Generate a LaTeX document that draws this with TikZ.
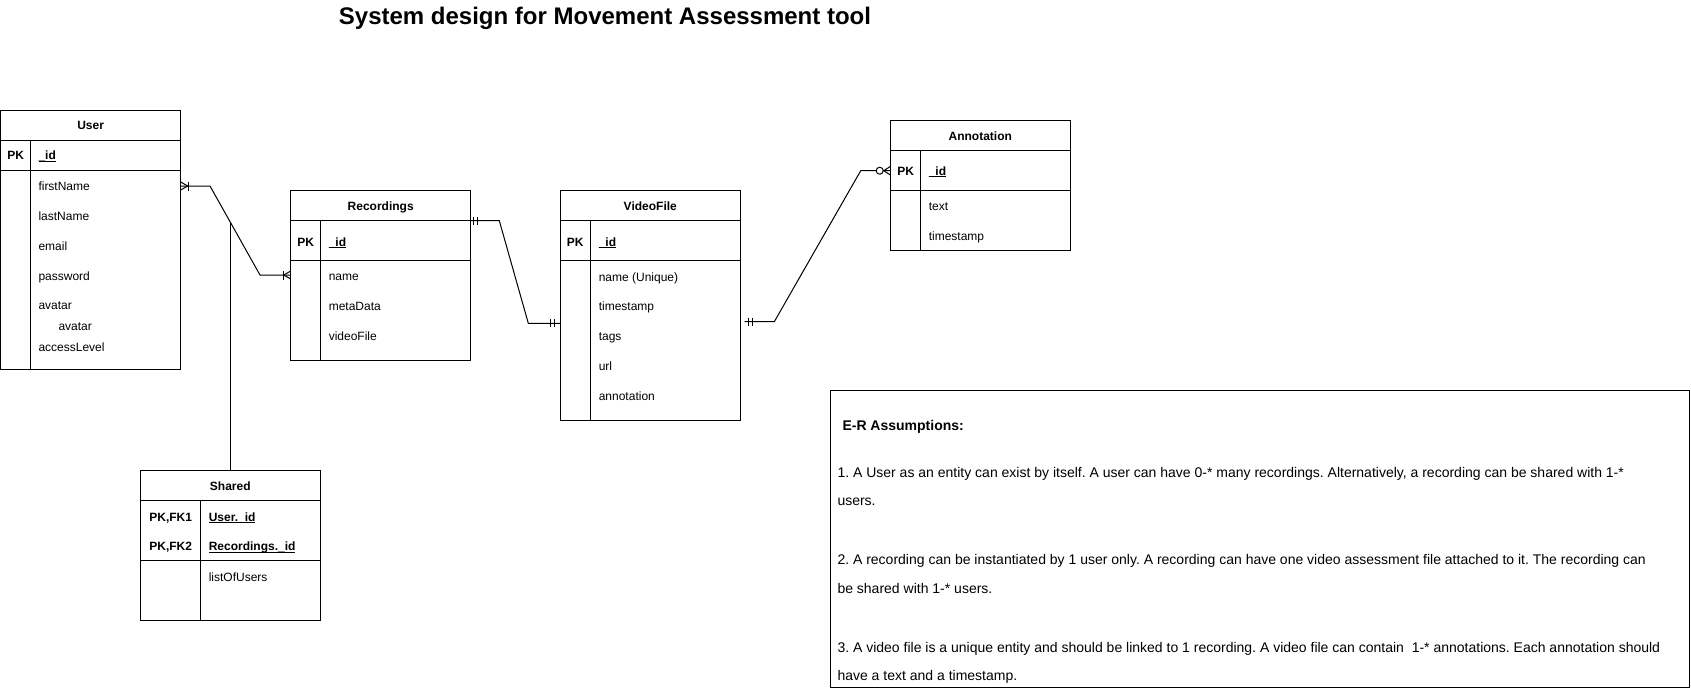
\documentclass[tikz,border=0pt]{standalone}
\usepackage{fontspec}
\setmainfont{Liberation Sans}
\usetikzlibrary{calc}
\frenchspacing
\newcommand{\keyul}[1]{\underline{\smash{#1}}}
\begin{document}
\begin{tikzpicture}[x=1pt,y=-1pt,line width=1pt,
  tbl/.style={draw, rectangle, inner sep=0pt, outer sep=0pt, anchor=north west},
  ttl/.style={font=\bfseries\fontsize{12}{14}\selectfont, inner sep=0pt, text height=8.6pt, text depth=0pt},
  fld/.style={font=\fontsize{12}{14}\selectfont, inner sep=0pt, anchor=west, text height=8.6pt, text depth=0pt},
  key/.style={fld, font=\bfseries\fontsize{12}{14}\selectfont},
  pk/.style={key, anchor=center},
  note/.style={font=\fontsize{14}{16}\selectfont, inner sep=0pt, anchor=west, text height=10pt, text depth=0pt},
  onemany/.pic={\draw (0,-4) -- (7,0) -- (0,4); \draw (7.5,-4.5) -- (7.5,4.5);},
  mandone/.pic={\draw (0,-4) -- (0,4); \draw (4,-4) -- (4,4);},
  zeromany/.pic={\draw (0,-4.5) -- (7,0) -- (0,4.5); \draw[fill=white] (11,0) circle (3.5);},
]
\useasboundingbox (0,0) rectangle (1691,691);

% title
\node[font=\bfseries\fontsize{24}{28}\selectfont, inner sep=0pt, text height=17pt, text depth=0pt] (title) at (605,16) {System design for Movement Assessment tool};

% ---------- User ----------
\node[tbl, minimum width=180.2pt, minimum height=259.3pt] (user) at (0.5,110) {};
\draw (user.west |- 0,140) -- (user.east |- 0,140);
\draw (user.west |- 0,170) -- (user.east |- 0,170);
\draw (30.7,140) -- (30.7,369.3);
\node[ttl] (userT) at (90.6,125) {User};
\node[pk] (userPK) at (15.6,155) {PK};
\node[key] (userId) at (38,155) {\keyul{\_id}};
\node[fld] (u1) at (38,186) {firstName};
\node[fld] (u2) at (38,216) {lastName};
\node[fld] (u3) at (38,246) {email};
\node[fld] (u4) at (38,276) {password};
\node[fld] (u5) at (38,305) {avatar};
\node[fld] (u6) at (58,326) {avatar};
\node[fld] (u7) at (38,346.7) {accessLevel};

% ---------- Recordings ----------
\node[tbl, minimum width=180pt, minimum height=169.3pt] (rec) at (290.7,190.7) {};
\draw (rec.west |- 0,220.7) -- (rec.east |- 0,220.7);
\draw (rec.west |- 0,260) -- (rec.east |- 0,260);
\draw (320.7,220.7) -- (320.7,360);
\node[ttl] (recT) at (380.7,206) {Recordings};
\node[pk] (recPK) at (305.7,241.7) {PK};
\node[key] (recId) at (328.3,241.7) {\keyul{\_id}};
\node[fld] (r1) at (328.3,276) {name};
\node[fld] (r2) at (328.3,306) {metaData};
\node[fld] (r3) at (328.3,336) {videoFile};

% ---------- VideoFile ----------
\node[tbl, minimum width=180.7pt, minimum height=229.3pt] (vid) at (560,190.7) {};
\draw (vid.west |- 0,220.7) -- (vid.east |- 0,220.7);
\draw (vid.west |- 0,260) -- (vid.east |- 0,260);
\draw (590.7,220.7) -- (590.7,420);
\node[ttl] (vidT) at (650.3,206) {VideoFile};
\node[pk] (vidPK) at (575.3,241.7) {PK};
\node[key] (vidId) at (598.3,241.7) {\keyul{\_id}};
\node[fld] (v1) at (598.3,276.7) {name (Unique)};
\node[fld] (v2) at (598.3,306) {timestamp};
\node[fld] (v3) at (598.3,336) {tags};
\node[fld] (v4) at (598.3,366) {url};
\node[fld] (v5) at (598.3,395.7) {annotation};

% ---------- Annotation ----------
\node[tbl, minimum width=179.3pt, minimum height=129.3pt] (ann) at (890.7,120.7) {};
\draw (ann.west |- 0,150.7) -- (ann.east |- 0,150.7);
\draw (ann.west |- 0,190) -- (ann.east |- 0,190);
\draw (920.7,150.7) -- (920.7,250);
\node[ttl] (annT) at (980.3,136) {Annotation};
\node[pk] (annPK) at (905.7,170.7) {PK};
\node[key] (annId) at (928.3,170.7) {\keyul{\_id}};
\node[fld] (a1) at (928.3,206) {text};
\node[fld] (a2) at (928.3,236) {timestamp};

% ---------- Shared ----------
\node[tbl, minimum width=179.3pt, minimum height=150pt] (sh) at (140.7,470.7) {};
\draw (sh.west |- 0,500.7) -- (sh.east |- 0,500.7);
\draw (sh.west |- 0,560) -- (sh.east |- 0,560);
\draw (200.7,500.7) -- (200.7,620.7);
\node[ttl] (shT) at (230.3,486) {Shared};
\node[pk] (shPK1) at (170.7,516.7) {PK,FK1};
\node[pk] (shPK2) at (170.7,546) {PK,FK2};
\node[key] (shK1) at (208.3,516.7) {\keyul{User.\_id}};
\node[key] (shK2) at (208.3,546) {\keyul{Recordings.\_id}};
\node[fld] (s1) at (208.3,576.7) {listOfUsers};

% ---------- connectors ----------
\coordinate (c1a) at (210,186);
\coordinate (c1b) at (260,275);
\draw (user.east |- 0,186) -- (c1a) -- (c1b) -- (rec.west |- 0,275);
\pic at (user.east |- 0,186) {onemany};
\pic[rotate=180] at (rec.west |- 0,275) {onemany};
\coordinate (c1m) at ($(c1a)!0.414!(c1b)$);
\draw (c1m) -- (c1m |- sh.north);

\coordinate (c2a) at (499.3,220.7);
\coordinate (c2b) at (528.3,323.3);
\draw (rec.east |- 0,220.7) -- (c2a) -- (c2b) -- (vid.west |- 0,323.3);
\pic at (473.3,220.7) {mandone};
\pic at (550,323.3) {mandone};

\coordinate (c3s) at (744.5,321.7);
\coordinate (c3a) at (774.3,321.7);
\coordinate (c3b) at (860.7,170.7);
\draw (c3s) -- (c3a) -- (c3b) -- (ann.west |- 0,170.7);
\pic at (748.3,321.7) {mandone};
\pic[rotate=180] at (ann.west |- 0,170.7) {zeromany};

% ---------- notes ----------
\node[tbl, minimum width=858.8pt, minimum height=297pt] (notes) at (830.7,390) {};
\node[note, font=\bfseries\fontsize{14}{16}\selectfont] (n0) at (842,425) {E-R Assumptions:};
\node[note] (n1) at (837,472.3) {1. A User as an entity can exist by itself. A user can have 0-* many recordings. Alternatively, a recording can be shared with 1-*};
\node[note] (n2) at (837,500.3) {users.};
\node[note] (n3) at (837,559.7) {2. A recording can be instantiated by 1 user only. A recording can have one video assessment file attached to it. The recording can};
\node[note] (n4) at (837,588.8) {be shared with 1-* users.};
\node[note] (n5) at (837,647) {3. A video file is a unique entity and should be linked to 1 recording. A video file can contain\ \ 1-* annotations. Each annotation should};
\node[note] (n6) at (837,675) {have a text and a timestamp.};
\end{tikzpicture}
\end{document}
